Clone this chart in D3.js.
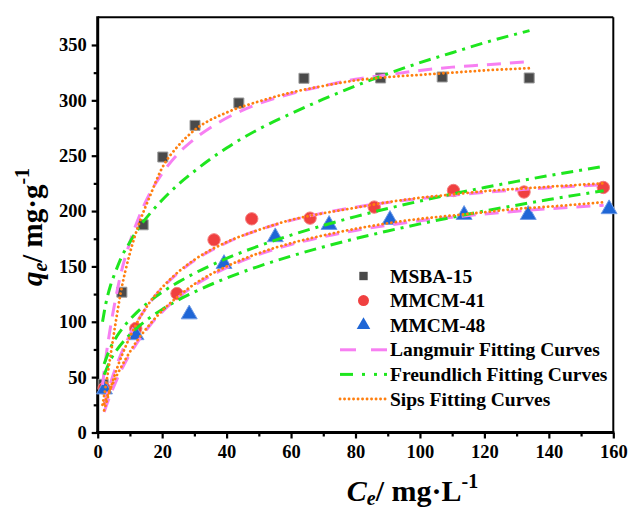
<!DOCTYPE html>
<html><head><meta charset="utf-8">
<script src="https://cdn.jsdelivr.net/npm/d3@7"></script>
<style>body{margin:0;background:#fff}svg{display:block}</style>
</head><body>
<script>
// ---------- data ----------
const xTicks = [0,20,40,60,80,100,120,140,160];
const yTicks = [0,50,100,150,200,250,300,350];

const msbaX = [1.7,7.5,14.1,20.2,30.2,43.8,64.0,87.8,106.9,133.9];
const msbaY = [43.5,126.7,187.6,248.8,277.4,297.6,319.9,320.2,321.1,320.2];
const mcm41X = [2.0,11.8,24.6,36.1,47.8,65.9,85.8,110.4,132.3,156.9];
const mcm41Y = [40,93.9,125.5,174,193,193.6,203.6,218.6,217.2,221.3];
const mcm48X = [2.1,11.9,28.4,39.2,55.1,71.8,90.7,113.7,133.6,158.7];
const mcm48Y = [39,88,106.8,152.3,176.5,187.6,192.1,196.6,196.6,201.8];

const fitXmsba = [1.5,2.5,4,5.5,7,10,13,16,20,25,30,40,50,60,70,80,90,100,110,120,134];
const langMsba = [43,67,96,120,141,172,196,215,234,252,265,284,297,306,313,319,323,327,330,332,335];
const freuMsba = [100,116,133,145,156,172,186,197,210,224,236,257,274,288,301,313,324,334,343,352,363];
const sipsMsba = [25,42,70,98,124,162,190,212,239,259,273,289,299,307,313,318,321,323,325,327,329];

const fitX = [2,4,6,9,12,16,20,25,30,40,50,60,70,80,90,100,110,120,130,140,157];
const lang41 = [24.6,44.8,61.7,82.4,99,116.6,130.5,144.3,155.3,171.5,183,191.6,198.2,203.5,207.8,211.3,214.3,216.8,219.1,221.1,223.9];
const freu41 = [61.9,76.8,87.1,98.8,108.1,118.2,126.7,135.8,143.7,157.2,168.5,178.3,187,195,202.3,209,215.3,221.2,226.8,232,240.4];
const sips41 = [20,40,58,80,98,117,131,145,156,172,183,192,198,203,208,212,215,218,220,222,225];
const lang48 = [18.6,34.5,48.3,65.7,80.1,96,108.9,122,132.7,148.9,160.8,169.8,176.8,182.5,187.2,191.2,194.5,197.4,199.9,202.1,205.2];
const freu48 = [52.2,65.6,74.9,85.5,94,103.3,111.1,119.6,126.9,139.5,150.1,159.3,167.6,175.1,182,188.4,194.4,200,205.3,210.4,218.4];
const sips48 = [26,40,52,68,82,97,110,123,134,150,162,171,178,184,189,193,196,199,202,204,208];

const seriesNames = ["MSBA-15","MMCM-41","MMCM-48"];
const fitNames = ["Langmuir Fitting Curves","Freundlich Fitting Curves","Sips Fitting Curves"];

// ---------- layout ----------
const W=630,H=509;
const L=97.7,R=613.3,T=17.3,B=432.5;
const svg=d3.select("body").append("svg").attr("width",W).attr("height",H);
const x=d3.scaleLinear().domain([0,160]).range([L,R]);
const y=d3.scaleLinear().domain([0,375]).range([B,T]);
const FONT="'Liberation Serif','Times New Roman',Times,serif";

const cols={sq:"#4a4a4a",ci:"#f04040",tr:"#1f66d6",lang:"#f77ff2",freu:"#1ee61e",sips:"#ff7f0f"};
const styles={
  lang:{c:cols.lang,d:"14 9",cap:"butt",w:3},
  freu:{c:cols.freu,d:"12 6 3 6",cap:"butt",w:3},
  sips:{c:cols.sips,d:"0.1 4.4",cap:"round",w:2.8}
};

// frame
svg.append("line").attr("x1",L).attr("x2",R).attr("y1",T).attr("y2",T).attr("stroke","#000").attr("stroke-width",2);
svg.append("line").attr("x1",R).attr("x2",R).attr("y1",T).attr("y2",B).attr("stroke","#000").attr("stroke-width",2);

// axes
const xAxis=svg.append("g").attr("transform",`translate(0,${B})`)
  .call(d3.axisBottom(x).tickValues(xTicks).tickSize(6).tickPadding(6));
const xMinor=svg.append("g").attr("transform",`translate(0,${B})`)
  .call(d3.axisBottom(x).tickValues(d3.range(10,160,20)).tickSize(4).tickFormat(""));
const yAxis=svg.append("g").attr("transform",`translate(${L},0)`)
  .call(d3.axisLeft(y).tickValues(yTicks).tickSize(6).tickPadding(5));
const yMinor=svg.append("g").attr("transform",`translate(${L},0)`)
  .call(d3.axisLeft(y).tickValues(d3.range(25,375,50)).tickSize(4).tickFormat(""));
[xAxis,yAxis,xMinor,yMinor].forEach(g=>{
  g.select(".domain").attr("stroke-width",3);
  g.selectAll(".tick line").attr("stroke-width",2.2);
  g.selectAll("text").style("font-family",FONT).attr("font-weight","bold").attr("font-size",18.5).attr("fill","#000");
});
xAxis.select(".domain").attr("d",`M${L-1.5},0H${R+1}`);
yAxis.select(".domain").attr("d",`M0,${B+1.5}V${T-1}`);
xMinor.select(".domain").remove(); yMinor.select(".domain").remove();

// points
function pts(xs,ys){return xs.map((v,i)=>[v,ys[i]]);}
const sym={
  sq:d3.symbol().type(d3.symbolSquare).size(100),
  ci:d3.symbol().type(d3.symbolCircle).size(120),
  tr:d3.symbol().type(d3.symbolTriangle).size(110)
};
function drawPoints(data,k,stroke){
  svg.append("g").selectAll("path").data(data).join("path")
    .attr("d",sym[k]).attr("transform",d=>`translate(${x(d[0])},${y(d[1])})`)
    .attr("fill",cols[k]).attr("stroke",stroke).attr("stroke-width",1);
}
drawPoints(pts(msbaX,msbaY),"sq","#9a9a9a");
drawPoints(pts(mcm41X,mcm41Y),"ci","#f57a7a");
drawPoints(pts(mcm48X,mcm48Y),"tr","#6f9be6");

// curves
const line=d3.line().x(d=>x(d[0])).y(d=>y(d[1])).curve(d3.curveMonotoneX);
function drawCurve(xs,ys,k){
  const s=styles[k];
  svg.append("path").attr("d",line(pts(xs,ys))).attr("fill","none")
    .attr("stroke",s.c).attr("stroke-width",s.w).attr("stroke-dasharray",s.d).attr("stroke-linecap",s.cap);
}
drawCurve(fitXmsba,langMsba,"lang"); drawCurve(fitX,lang41,"lang"); drawCurve(fitX,lang48,"lang");
drawCurve(fitXmsba,freuMsba,"freu"); drawCurve(fitX,freu41,"freu"); drawCurve(fitX,freu48,"freu");
drawCurve(fitXmsba,sipsMsba,"sips"); drawCurve(fitX,sips41,"sips"); drawCurve(fitX,sips48,"sips");

// legend
const lg=svg.append("g");
const rowY=[276,300.6,325.2,349.8,374.4,399];
const symKeys=["sq","ci","tr"];
const legSym={sq:d3.symbol().type(d3.symbolSquare).size(70),ci:d3.symbol().type(d3.symbolCircle).size(95),tr:d3.symbol().type(d3.symbolTriangle).size(80)};
seriesNames.forEach((n,i)=>{
  lg.append("path").attr("d",legSym[symKeys[i]]).attr("transform",`translate(363.5,${rowY[i]})`)
    .attr("fill",cols[symKeys[i]]);
});
const legLine={
  lang:[[340,356],[371,387]],
  freu:[[340,353],[362,365],[374,377],[384,387]],
  sips:[[340,388]]
};
["lang","freu","sips"].forEach((k,i)=>{
  const s=styles[k], yy=rowY[3+i];
  legLine[k].forEach(seg=>{
    lg.append("line").attr("x1",seg[0]).attr("x2",seg[1]).attr("y1",yy).attr("y2",yy)
      .attr("stroke",s.c).attr("stroke-width",s.w).attr("stroke-linecap",s.cap)
      .attr("stroke-dasharray",k==="sips"?s.d:null);
  });
});
[...seriesNames,...fitNames].forEach((n,i)=>{
  lg.append("text").attr("x",390).attr("y",rowY[i]+6.5).text(n)
    .style("font-family",FONT).attr("font-weight","bold").attr("font-size",19.5).attr("fill","#000");
});

// axis titles
const xt=svg.append("text").attr("x",412.5).attr("y",501).attr("text-anchor","middle")
  .style("font-family",FONT).attr("font-weight","bold").attr("font-size",30).attr("fill","#000");
xt.append("tspan").attr("font-style","italic").text("C");
xt.append("tspan").attr("font-style","italic").attr("font-size",20).attr("dy",4).text("e");
xt.append("tspan").attr("dy",-4).text("/ mg·L");
xt.append("tspan").attr("font-size",20).attr("dy",-13).text("-1");

const yt=svg.append("text").attr("transform","translate(42,227) rotate(-90)").attr("text-anchor","middle")
  .style("font-family",FONT).attr("font-weight","bold").attr("font-size",29).attr("fill","#000");
yt.append("tspan").attr("font-style","italic").text("q");
yt.append("tspan").attr("font-style","italic").attr("font-size",20).attr("dy",5).text("e");
yt.append("tspan").attr("dy",-5).text("/ mg·g");
yt.append("tspan").attr("font-size",20).attr("dy",-13).text("-1");
</script>
</body></html>
